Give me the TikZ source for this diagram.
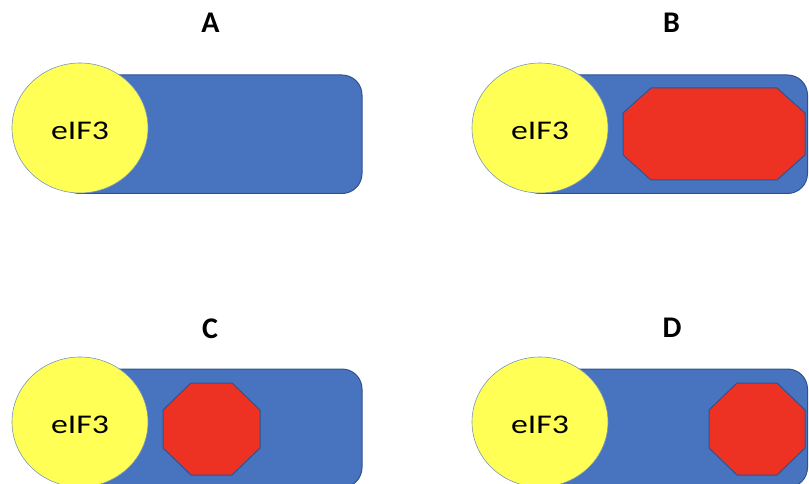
\documentclass[tikz,border=0pt]{standalone}
\usepackage{fontspec}
\setmainfont{Carlito}
\newfontfamily\labelfont[FakeStretch=1.25]{Carlito}
\usetikzlibrary{shapes.geometric}
\definecolor{bodyblue}{RGB}{72,115,190}
\definecolor{edgeblue}{RGB}{47,82,143}
\definecolor{capyellow}{RGB}{255,255,85}
\definecolor{ringblue}{RGB}{120,150,190}
\definecolor{cargored}{RGB}{237,50,36}
% chamfered box: x1, y1, x2, y2, horizontal cut, vertical cut
\newcommand\cargoshape[6]{%
  \draw[cargo] (#1+#5,#2) -- (#3-#5,#2) -- (#3,#2+#6) -- (#3,#4-#6)
    -- (#3-#5,#4) -- (#1+#5,#4) -- (#1,#4-#6) -- (#1,#2+#6) -- cycle;}
\begin{document}
\begin{tikzpicture}[x=1pt,y=-1pt,
  body/.style={fill=bodyblue,draw=edgeblue,line width=1pt,rounded corners=20pt},
  capnode/.style={ellipse,fill=capyellow,draw=ringblue,line width=0.6pt,
    minimum width=136pt,minimum height=130pt,inner sep=0pt},
  cargo/.style={fill=cargored,draw=edgeblue,line width=1pt},
  paneltitle/.style={font=\bfseries\fontsize{30}{30}\selectfont,inner sep=0pt},
  caplabel/.style={font=\labelfont\fontsize{27}{27}\selectfont,inner sep=0pt}]
\useasboundingbox (0,0) rectangle (809,484);
\clip (0,0) rectangle (809,484);

% panel A
\draw[body] (60,75) rectangle (362,193.5);
\node[capnode] (capA) at (80,128) {};
\node[caplabel] (labA) at (80,130.5) {eIF3};
\node[paneltitle] (titleA) at (210.5,23) {A};

% panel B
\draw[body] (520,75) rectangle (807.5,193.5);
\cargoshape{623}{88}{805}{180}{28}{25}
\node[capnode] (capB) at (540,128) {};
\node[caplabel] (labB) at (540,130.5) {eIF3};
\node[paneltitle] (titleB) at (671.5,23) {B};

% panel C
\draw[body] (60,369) rectangle (362,487.5);
\cargoshape{163}{383}{260}{475}{28}{27}
\node[capnode] (capC) at (80,422) {};
\node[caplabel] (labC) at (80,424.5) {eIF3};
\node[paneltitle] (titleC) at (210,329) {C};

% panel D
\draw[body] (520,369) rectangle (807.5,487.5);
\cargoshape{709}{383}{805}{475}{28}{27}
\node[capnode] (capD) at (540,422) {};
\node[caplabel] (labD) at (540,424.5) {eIF3};
\node[paneltitle] (titleD) at (672,328) {D};
\end{tikzpicture}
\end{document}
